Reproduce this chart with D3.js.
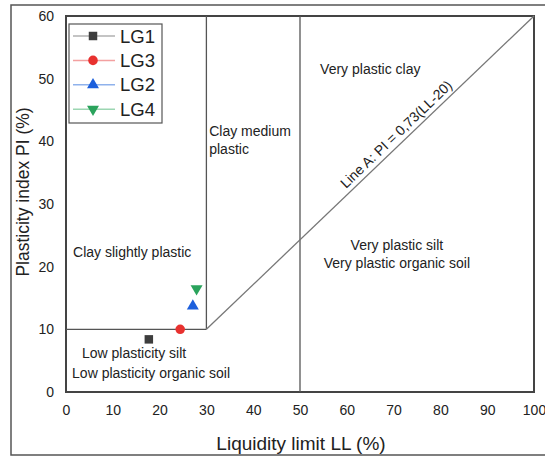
<!DOCTYPE html>
<html>
<head>
<meta charset="utf-8">
<script src="https://cdn.jsdelivr.net/npm/d3@7"></script>
<style>
  body { margin: 0; background: #fff; }
  svg text { font-family: "Liberation Sans", Arial, sans-serif; fill: #222; }
</style>
</head>
<body>
<svg id="chart" width="545" height="457"></svg>
<script>
// data
var series = [
  { name: "LG1", ll: 17.7, pi: 8.4, color: "#3d3d3d", line: "#b0b0b0", shape: "square" },
  { name: "LG3", ll: 24.4, pi: 10.0, color: "#e8312f", line: "#f3a0a0", shape: "circle" },
  { name: "LG2", ll: 27.1, pi: 13.7, color: "#1c5fdc", line: "#8fb2ec", shape: "triangle" },
  { name: "LG4", ll: 27.9, pi: 16.5, color: "#2aa35c", line: "#9cd6b2", shape: "down" }
];
var xTicks = [0, 10, 20, 30, 40, 50, 60, 70, 80, 90, 100];
var yTicks = [0, 10, 20, 30, 40, 50, 60];
// zone boundaries (LL, PI)
var boundaries = [
  [[0, 10], [30, 10]],
  [[30, 10], [30, 60]],
  [[50, 0], [50, 60]]
];
var lineA = [[30, 10], [100, 60]];
var zoneLabels = [
  { lines: ["Clay slightly plastic"], ll: 1.5, pi: 21.5, anchor: "start" },
  { lines: ["Clay medium", "plastic"], ll: 30.6, pi: 40.8, anchor: "start" },
  { lines: ["Very plastic clay"], ll: 54.3, pi: 50.7, anchor: "start" },
  { lines: ["Very plastic silt", "Very plastic organic soil"], ll: 70.7, pi: 22.6, anchor: "middle" },
  { lines: ["Low plasticity silt"], ll: 3.4, pi: 5.4, anchor: "start" },
  { lines: ["Low plasticity organic soil"], ll: 1.3, pi: 2.2, anchor: "start" }
];

(function () {
  "use strict";
  var svg = d3.select("#chart");
  var x = d3.scaleLinear().domain([0, 100]).range([66, 534]);
  var y = d3.scaleLinear().domain([0, 60]).range([392, 16]);

  // outer frame
  svg.append("rect").attr("x", 11).attr("y", 5).attr("width", 540).attr("height", 450)
    .attr("fill", "none").attr("stroke", "#555").attr("stroke-width", 1.5);

  // plot frame
  svg.append("rect").attr("x", x(0)).attr("y", y(60))
    .attr("width", x(100) - x(0)).attr("height", y(0) - y(60))
    .attr("fill", "none").attr("stroke", "#444").attr("stroke-width", 2);

  // axes (labels only)
  var xAxis = svg.append("g").attr("transform", "translate(0," + (y(0) + 9) + ")")
    .call(d3.axisBottom(x).tickValues(xTicks).tickSize(0).tickPadding(4));
  var yAxis = svg.append("g").attr("transform", "translate(" + (x(0) - 8) + ",0)")
    .call(d3.axisLeft(y).tickValues(yTicks).tickSize(0).tickPadding(4));
  [xAxis, yAxis].forEach(function (g) {
    g.select(".domain").remove();
    g.selectAll("text").attr("font-size", 14).style("font-family", "Liberation Sans, Arial, sans-serif")
      .attr("fill", "#222");
  });

  // boundaries
  var line = d3.line().x(function (d) { return x(d[0]); }).y(function (d) { return y(d[1]); });
  svg.selectAll(".bound").data(boundaries).enter().append("path").attr("class", "bound")
    .attr("d", line).attr("fill", "none").attr("stroke", "#555").attr("stroke-width", 1.3);
  svg.append("path").datum(lineA).attr("d", line)
    .attr("fill", "none").attr("stroke", "#777").attr("stroke-width", 1.3);

  // line A label, laid along the line
  var p0 = [x(lineA[0][0]), y(lineA[0][1])], p1 = [x(lineA[1][0]), y(lineA[1][1])];
  var ang = Math.atan2(p1[1] - p0[1], p1[0] - p0[0]);
  var t = 0.6, off = 5;
  var lx = p0[0] + (p1[0] - p0[0]) * t + Math.sin(ang) * off,
      ly = p0[1] + (p1[1] - p0[1]) * t - Math.cos(ang) * off;
  svg.append("text").attr("transform", "translate(" + lx + "," + ly + ") rotate(" + (ang * 180 / Math.PI) + ")")
    .attr("text-anchor", "middle").attr("font-size", 14).text("Line A: PI = 0,73(LL-20)");

  // zone labels
  zoneLabels.forEach(function (z) {
    var t = svg.append("text").attr("x", x(z.ll)).attr("y", y(z.pi))
      .attr("text-anchor", z.anchor).attr("font-size", 14);
    z.lines.forEach(function (s, i) {
      t.append("tspan").attr("x", x(z.ll)).attr("dy", i === 0 ? 0 : 17.5).text(s);
    });
  });

  // markers
  var symbols = { square: d3.symbolSquare, circle: d3.symbolCircle, triangle: d3.symbolTriangle, down: d3.symbolTriangle };
  var sizes = { square: 72, circle: 72, triangle: 62, down: 62 };
  function marker(g, s) {
    g.append("path").attr("d", d3.symbol().type(symbols[s.shape]).size(sizes[s.shape]))
      .attr("transform", s.shape === "down" ? "rotate(180)" : null)
      .attr("fill", s.color);
  }
  series.forEach(function (s) {
    var g = svg.append("g").attr("transform", "translate(" + x(s.ll) + "," + y(s.pi) + ")");
    marker(g, s);
  });

  // legend
  var lg = svg.append("g").attr("transform", "translate(69,24)");
  lg.append("rect").attr("width", 93).attr("height", 99).attr("fill", "#fff")
    .attr("stroke", "#555").attr("stroke-width", 1.2);
  series.forEach(function (s, i) {
    var row = lg.append("g").attr("transform", "translate(0," + (12 + i * 24.4) + ")");
    row.append("line").attr("x1", 4).attr("x2", 46).attr("stroke", s.line).attr("stroke-width", 1.5);
    var m = row.append("g").attr("transform", "translate(24,0)");
    marker(m, s);
    row.append("text").attr("x", 51).attr("dy", "0.36em").attr("font-size", 18.5).text(s.name);
  });

  // axis titles
  svg.append("text").attr("x", 301).attr("y", 450).attr("text-anchor", "middle")
    .attr("font-size", 19).text("Liquidity limit LL (%)");
  svg.append("text").attr("transform", "translate(29,192) rotate(-90)")
    .attr("text-anchor", "middle").attr("font-size", 17.5).text("Plasticity index PI (%)");
})();
</script>
</body>
</html>
